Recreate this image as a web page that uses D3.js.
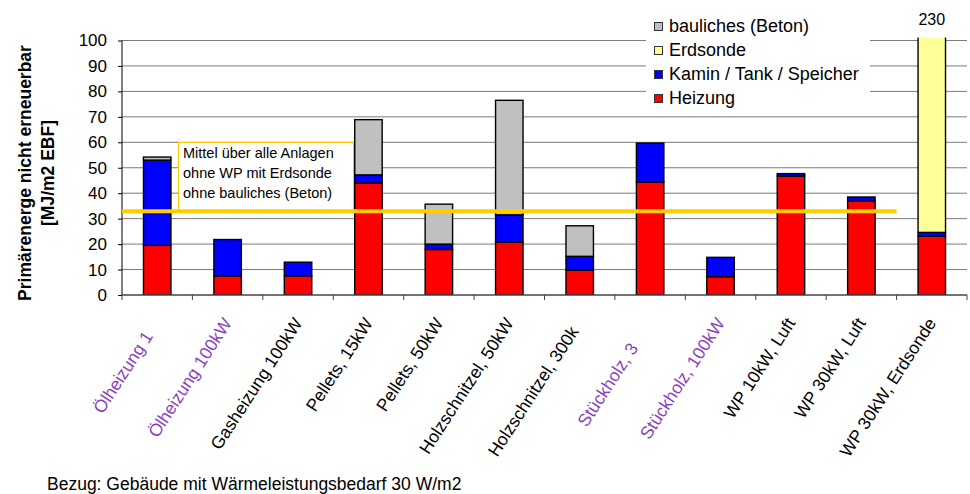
<!DOCTYPE html>
<html>
<head>
<meta charset="utf-8">
<script src="https://cdn.jsdelivr.net/npm/d3@7"></script>
<style>
  html, body { margin: 0; padding: 0; background: #fff; }
  svg { display: block; font-family: "Liberation Sans", Arial, sans-serif; }
</style>
</head>
<body>
<svg id="chart" width="970" height="494"></svg>
<script>
// Heating systems compared (some names are cut short on the axis)
const categories = [
  "Ölheizung 1", "Ölheizung 100kW", "Gasheizung 100kW", "Pellets, 15kW",
  "Pellets, 50kW", "Holzschnitzel, 50kW", "Holzschnitzel, 300k", "Stückholz, 3",
  "Stückholz, 100kW", "WP 10kW, Luft", "WP 30kW, Luft", "WP 30kW, Erdsonde"
];
// Labels drawn in the highlight colour
const highlighted = ["Ölheizung 1", "Ölheizung 100kW", "Stückholz, 3", "Stückholz, 100kW"];

// Stack components (MJ/m2 EBF)
const heizung  = [19.5, 7.5, 7.5, 44.0, 17.9, 20.7, 9.8, 44.4, 7.2, 46.7, 36.9, 23.1];
const kamin    = [33.5, 14.3, 5.4, 3.2, 2.1, 10.8, 5.4, 15.3, 7.6, 1.0, 1.6, 1.5];
const erdsonde = [0, 0, 0, 0, 0, 0, 0, 0, 0, 0, 0, 205.4];
const beton    = [1.2, 0, 0, 21.7, 15.7, 45.0, 12.0, 0, 0, 0, 0, 0];

const seriesNames = ["Heizung", "Kamin / Tank / Speicher", "Erdsonde", "bauliches (Beton)"];
const seriesColors = ["#FF0000", "#0000FF", "#FFFF99", "#C0C0C0"];
const yTicks = [0, 10, 20, 30, 40, 50, 60, 70, 80, 90, 100];

const meanLabel = ["Mittel über alle Anlagen", "ohne WP mit Erdsonde", "ohne bauliches (Beton)"];
const yTitle = ["Primärenerge nicht erneuerbar", "[MJ/m2 EBF]"];
const footnote = "Bezug: Gebäude mit Wärmeleistungsbedarf 30 W/m2";

const rows = categories.map((c, i) => ({
  cat: c,
  "Heizung": heizung[i],
  "Kamin / Tank / Speicher": kamin[i],
  "Erdsonde": erdsonde[i],
  "bauliches (Beton)": beton[i]
}));

const svg = d3.select("#chart");
const plot = { left: 122, right: 967, top: 40.5, bottom: 295 };

const x = d3.scaleBand().domain(categories).range([plot.left, plot.right]).padding(0);
const y = d3.scaleLinear().domain([0, 100]).range([plot.bottom, plot.top]);
const color = d3.scaleOrdinal().domain(seriesNames).range(seriesColors);
const barW = x.bandwidth() * 0.39;

// Gridlines
svg.append("g")
  .selectAll("line")
  .data(yTicks.filter(t => t > 0))
  .join("line")
  .attr("x1", plot.left).attr("x2", plot.right)
  .attr("y1", d => y(d)).attr("y2", d => y(d))
  .attr("stroke", "#7a7a7a").attr("stroke-width", 1);

// Clip so the tall bar stops just above the axis range
svg.append("clipPath").attr("id", "plotClip")
  .append("rect")
  .attr("x", plot.left).attr("y", plot.top - 3)
  .attr("width", plot.right - plot.left).attr("height", plot.bottom - plot.top + 3);

const stack = d3.stack().keys(seriesNames);
const stacked = stack(rows);

const bars = svg.append("g").attr("clip-path", "url(#plotClip)");
stacked.forEach(layer => {
  bars.append("g")
    .attr("fill", color(layer.key))
    .selectAll("rect")
    .data(layer.filter(d => d[1] - d[0] > 0))
    .join("rect")
    .attr("x", d => x(d.data.cat) + (x.bandwidth() - barW) / 2)
    .attr("width", barW)
    .attr("y", d => y(d[1]))
    .attr("height", d => y(d[0]) - y(d[1]))
    .attr("stroke", "#000")
    .attr("stroke-width", 1.4);
});

// Value label above the clipped bar
const totals = rows.map(r => seriesNames.reduce((s, k) => s + r[k], 0));
const overflow = rows.filter((r, i) => totals[i] > 100);
svg.append("g")
  .selectAll("text")
  .data(overflow)
  .join("text")
  .attr("x", d => x(d.cat) + x.bandwidth() / 2)
  .attr("y", 25)
  .attr("text-anchor", "middle")
  .attr("font-size", 16)
  .attr("fill", "#000")
  .text(d => d3.format(".0f")(seriesNames.reduce((s, k) => s + d[k], 0)));

// Axes
const yAxis = d3.axisLeft(y).tickValues(yTicks).tickSize(4).tickPadding(11);
const gy = svg.append("g").attr("transform", `translate(${plot.left},0)`).call(yAxis);
gy.select(".domain").attr("stroke", "#000").attr("d", `M0,${plot.top}V${plot.bottom}`);
gy.selectAll(".tick line").attr("stroke", "#000");
gy.selectAll(".tick text").attr("font-size", 17).attr("fill", "#000")
  .attr("font-family", "Liberation Sans, Arial, sans-serif");

const gx = svg.append("g").attr("transform", `translate(0,${plot.bottom})`);
gx.append("line")
  .attr("x1", plot.left).attr("x2", plot.right)
  .attr("stroke", "#444").attr("stroke-width", 1.3);
gx.selectAll(".tk")
  .data(categories.concat([null]))
  .join("line")
  .attr("class", "tk")
  .attr("x1", (d, i) => plot.left + i * x.step())
  .attr("x2", (d, i) => plot.left + i * x.step())
  .attr("y1", 0).attr("y2", 5)
  .attr("stroke", "#444");

// Cut-short names stop before the tick, where their missing tail would be
const cutGap = { "Ölheizung 1": 16, "Holzschnitzel, 300k": 10, "Stückholz, 3": 30 };
gx.selectAll(".cl")
  .data(categories)
  .join("text")
  .attr("class", "cl")
  .attr("text-anchor", "end")
  .attr("font-size", 17.5)
  .attr("fill", d => highlighted.includes(d) ? "#8a3fc0" : "#000")
  .attr("transform", d => `translate(${x(d) + x.bandwidth() / 2 + 5},28) rotate(-57)`)
  .attr("dx", d => -(cutGap[d] || 0))
  .text(d => d);

// Mean line over the systems without ground probe
const meanIdx = d3.range(categories.length - 1);
const meanVal = d3.mean(meanIdx, i => heizung[i] + kamin[i]);
const meanEnd = x(categories[categories.length - 2]) + x.bandwidth();

// Annotation box
const box = svg.append("g");
box.append("rect")
  .attr("x", 178.5).attr("y", 142.5)
  .attr("width", 175).attr("height", y(meanVal) - 142.5)
  .attr("fill", "#fff").attr("stroke", "#FFCC00").attr("stroke-width", 1);
box.selectAll("text")
  .data(meanLabel)
  .join("text")
  .attr("x", 183)
  .attr("y", (d, i) => 158 + i * 20)
  .attr("font-size", 14.5)
  .attr("fill", "#000")
  .text(d => d);

svg.append("line")
  .attr("x1", plot.left).attr("x2", meanEnd)
  .attr("y1", y(meanVal)).attr("y2", y(meanVal))
  .attr("stroke", "#FFCC00").attr("stroke-width", 4);

// Legend
const legendOrder = seriesNames.slice().reverse();
const lg = svg.append("g");
lg.append("rect")
  .attr("x", 646).attr("y", 9).attr("width", 224).attr("height", 102)
  .attr("fill", "#fff");
const li = lg.selectAll("g.li")
  .data(legendOrder)
  .join("g")
  .attr("class", "li")
  .attr("transform", (d, i) => `translate(654,${32 + i * 24})`);
li.append("rect")
  .attr("x", 0.5).attr("y", -9.5).attr("width", 8).attr("height", 8)
  .attr("fill", d => color(d)).attr("stroke", "#333").attr("stroke-width", 1);
li.append("text")
  .attr("x", 15).attr("y", 0)
  .attr("font-size", 18)
  .attr("fill", "#000")
  .text(d => d);

// Y-axis title
const yt = svg.append("text")
  .attr("transform", "translate(31,173) rotate(-90)")
  .attr("text-anchor", "middle")
  .attr("font-size", 17.5)
  .attr("font-weight", "bold")
  .attr("fill", "#000");
yt.selectAll("tspan")
  .data(yTitle)
  .join("tspan")
  .attr("x", 0)
  .attr("dy", (d, i) => i === 0 ? 0 : 23)
  .text(d => d);

// Footnote
svg.append("text")
  .attr("x", 47).attr("y", 490)
  .attr("font-size", 17.5)
  .attr("fill", "#000")
  .text(footnote);
</script>
</body>
</html>
